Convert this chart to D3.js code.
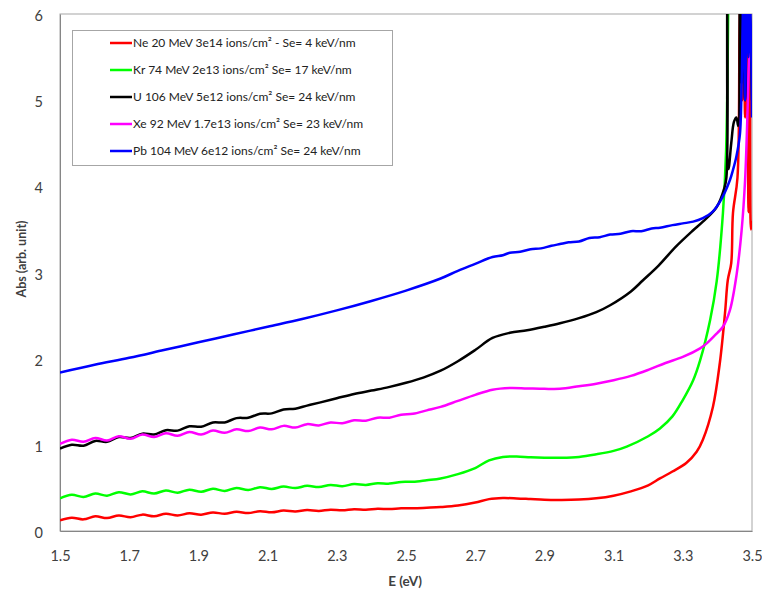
<!DOCTYPE html>
<html><head><meta charset="utf-8">
<script src="https://cdn.jsdelivr.net/npm/d3@7"></script>
<style>
body{margin:0;background:#fff;}
svg{display:block;font-family:Lato,"Open Sans",sans-serif;}
</style></head><body>
<svg id="chart" width="762" height="591"></svg>
<script>
const xTicks = [1.5,1.7,1.9,2.1,2.3,2.5,2.7,2.9,3.1,3.3,3.5];
const yTicks = [0,1,2,3,4,5,6];
const seriesNames = [
  "Ne 20 MeV 3e14 ions/cm² - Se= 4 keV/nm",
  "Kr 74 MeV 2e13 ions/cm² Se= 17 keV/nm",
  "U 106 MeV 5e12 ions/cm² Se= 24 keV/nm",
  "Xe 92 MeV 1.7e13 ions/cm² Se= 23 keV/nm",
  "Pb 104 MeV 6e12 ions/cm² Se= 24 keV/nm"
];
const seriesColors = ["#ff0000","#00ff00","#000000","#ff00ff","#0000ff"];

const neData = [
[1.5,0.125],[1.534,0.155],[1.568,0.135],[1.602,0.17],[1.636,0.15],[1.67,0.18],[1.704,0.16],[1.738,0.19],
[1.772,0.17],[1.806,0.2],[1.84,0.18],[1.874,0.205],[1.908,0.19],[1.942,0.215],[1.976,0.2],[2.01,0.222],
[2.044,0.208],[2.078,0.23],[2.112,0.217],[2.146,0.237],[2.18,0.226],[2.214,0.243],[2.248,0.233],[2.282,0.248],
[2.316,0.24],[2.35,0.253],[2.384,0.247],[2.418,0.258],[2.452,0.254],[2.486,0.263],[2.52,0.263],[2.56,0.27],
[2.6,0.278],[2.65,0.295],[2.7,0.33],[2.74,0.37],[2.78,0.382],[2.82,0.378],[2.86,0.37],[2.9,0.362],[2.95,0.36],
[3.0,0.365],[3.05,0.38],[3.1,0.41],[3.15,0.46],[3.2,0.53],[3.234,0.61],[3.27,0.69],[3.31,0.79],[3.34,0.92],
[3.358,1.06],[3.387,1.44],[3.407,1.95],[3.422,2.53],[3.43,2.91],[3.44,3.11],[3.445,3.69],[3.458,4.1],
[3.464,5.8],[3.468,6.5],[3.472,5.0],[3.476,6.5],[3.48,4.8],[3.485,6.5],[3.49,3.7],[3.494,5.5],[3.497,3.5],[3.5,3.6]];

const krData = [
[1.5,0.38],[1.534,0.42],[1.568,0.395],[1.602,0.435],[1.636,0.41],[1.67,0.45],[1.704,0.425],[1.738,0.46],
[1.772,0.435],[1.806,0.47],[1.84,0.445],[1.874,0.48],[1.908,0.455],[1.942,0.49],[1.976,0.465],[2.01,0.5],
[2.044,0.475],[2.078,0.508],[2.112,0.488],[2.146,0.515],[2.18,0.498],[2.214,0.525],[2.248,0.51],[2.282,0.535],
[2.316,0.52],[2.35,0.545],[2.384,0.535],[2.418,0.555],[2.452,0.55],[2.486,0.57],[2.52,0.572],[2.56,0.59],
[2.6,0.61],[2.65,0.66],[2.7,0.73],[2.74,0.82],[2.78,0.86],[2.82,0.865],[2.86,0.855],[2.9,0.85],[2.945,0.85],
[3.0,0.86],[3.05,0.89],[3.1,0.93],[3.138,0.98],[3.2,1.10],[3.234,1.19],[3.27,1.33],[3.3,1.52],[3.33,1.75],
[3.35,1.98],[3.379,2.45],[3.398,2.9],[3.416,3.69],[3.425,4.4],[3.432,6.5]];

const uData = [
[1.5,0.955],[1.534,1.0],[1.568,0.99],[1.602,1.045],[1.636,1.035],[1.67,1.09],[1.704,1.08],[1.738,1.13],
[1.772,1.12],[1.806,1.17],[1.84,1.165],[1.874,1.215],[1.908,1.21],[1.942,1.26],[1.976,1.26],[2.01,1.31],
[2.044,1.315],[2.078,1.36],[2.112,1.365],[2.146,1.41],[2.18,1.42],[2.214,1.455],[2.25,1.49],[2.3,1.54],
[2.35,1.59],[2.4,1.63],[2.45,1.67],[2.5,1.72],[2.55,1.78],[2.6,1.86],[2.65,1.97],[2.7,2.10],[2.75,2.24],
[2.8,2.30],[2.85,2.33],[2.9,2.37],[2.945,2.41],[3.0,2.47],[3.05,2.54],[3.09,2.62],[3.15,2.78],[3.185,2.91],
[3.23,3.08],[3.28,3.30],[3.33,3.49],[3.358,3.59],[3.398,3.76],[3.42,3.98],[3.426,4.1],[3.428,6.5],
[3.432,4.2],[3.44,4.5],[3.448,4.75],[3.455,4.8],[3.46,4.7],[3.465,6.5],[3.47,5.2],[3.475,6.5],[3.48,5.0],
[3.49,6.5],[3.5,5.0]];

const xeData = [
[1.5,1.01],[1.534,1.06],[1.568,1.035],[1.602,1.08],[1.636,1.05],[1.67,1.10],[1.704,1.07],[1.738,1.12],
[1.772,1.09],[1.806,1.135],[1.84,1.105],[1.874,1.15],[1.908,1.12],[1.942,1.165],[1.976,1.14],[2.01,1.18],
[2.044,1.16],[2.078,1.2],[2.112,1.18],[2.146,1.22],[2.18,1.20],[2.214,1.24],[2.248,1.225],[2.282,1.26],
[2.316,1.25],[2.35,1.285],[2.384,1.28],[2.418,1.315],[2.452,1.315],[2.486,1.35],[2.52,1.36],[2.56,1.40],
[2.6,1.44],[2.65,1.51],[2.7,1.58],[2.75,1.64],[2.8,1.66],[2.85,1.655],[2.9,1.65],[2.945,1.65],[3.0,1.68],
[3.05,1.71],[3.1,1.75],[3.15,1.80],[3.2,1.87],[3.25,1.95],[3.3,2.02],[3.35,2.12],[3.37,2.18],[3.4,2.30],
[3.416,2.37],[3.436,2.56],[3.456,2.99],[3.47,3.49],[3.48,4.07],[3.488,5.0],[3.495,6.2]];

const pbData = [
[1.5,1.84],[1.6,1.93],[1.7,2.01],[1.8,2.10],[1.9,2.19],[2.0,2.28],[2.1,2.37],[2.2,2.46],[2.3,2.56],
[2.4,2.67],[2.5,2.79],[2.6,2.93],[2.65,3.02],[2.7,3.10],[2.75,3.18],[2.78,3.2],[2.8,3.23],[2.83,3.24],
[2.86,3.27],[2.89,3.28],[2.92,3.31],[2.945,3.33],[2.97,3.35],[3.0,3.36],[3.03,3.40],[3.06,3.41],[3.09,3.44],
[3.12,3.45],[3.15,3.48],[3.18,3.48],[3.21,3.51],[3.234,3.52],[3.27,3.55],[3.3,3.57],[3.33,3.59],[3.358,3.63],
[3.385,3.7],[3.41,3.84],[3.436,4.07],[3.445,4.19],[3.455,4.35],[3.465,4.6],[3.47,5.2],[3.475,6.2],
[3.48,5.0],[3.485,6.2],[3.49,5.5],[3.495,6.2],[3.5,4.8]];

const allSeries = [neData, krData, uData, xeData, pbData];

const svg = d3.select("#chart");
const m = {left:60, right:10, top:14, bottom:60};
const W = 762, H = 591;
const x = d3.scaleLinear().domain([1.5,3.5]).range([m.left, W - m.right]);
const y = d3.scaleLinear().domain([0,6]).range([H - m.bottom, m.top]);

svg.append("defs").append("clipPath").attr("id","clip")
  .append("rect").attr("x", m.left).attr("y", m.top)
  .attr("width", W - m.right - m.left).attr("height", H - m.bottom - m.top);

svg.append("rect").attr("x", m.left).attr("y", m.top)
  .attr("width", W - m.right - m.left).attr("height", H - m.bottom - m.top)
  .attr("fill","none").attr("stroke","#a6a6a6").attr("stroke-width",1);

const xAxis = svg.append("g").attr("transform",`translate(0,${H - m.bottom})`)
  .call(d3.axisBottom(x).tickValues(xTicks).tickSize(0).tickPadding(20).tickFormat(d3.format(".1f")));
const yAxis = svg.append("g").attr("transform",`translate(${m.left},0)`)
  .call(d3.axisLeft(y).tickValues(yTicks).tickSize(0).tickPadding(17).tickFormat(d3.format("d")));
[xAxis, yAxis].forEach(a => {
  a.select(".domain").attr("stroke","#868686");
  a.selectAll("text").attr("font-family","Lato, sans-serif").attr("font-size",14.5).attr("fill","#404040");
});
yAxis.selectAll("text").attr("dy","0.45em");

const line = d3.line().curve(d3.curveCatmullRom.alpha(0.5)).x(d => x(d[0])).y(d => y(d[1]));
const g = svg.append("g").attr("clip-path","url(#clip)");
allSeries.forEach((s,i) => {
  g.append("path").datum(s).attr("d", line).attr("fill","none")
    .attr("stroke", seriesColors[i]).attr("stroke-width",2.5).attr("stroke-linejoin","round");
});

svg.append("text").attr("x", 405).attr("y", 586)
  .attr("text-anchor","middle").attr("font-weight","bold").attr("font-size",13.5).attr("fill","#404040")
  .text("E (eV)");
svg.append("text").attr("transform","translate(26,259) rotate(-90)")
  .attr("text-anchor","middle").attr("font-weight","bold").attr("font-size",12.5).attr("fill","#404040")
  .text("Abs (arb. unit)");

const lg = svg.append("g");
lg.append("rect").attr("x",72.5).attr("y",30.5).attr("width",320).attr("height",135)
  .attr("fill","#fff").attr("stroke","#a6a6a6").attr("stroke-width",1);
seriesNames.forEach((name,i) => {
  const yy = 43 + i*27;
  lg.append("line").attr("x1",110).attr("x2",132).attr("y1",yy).attr("y2",yy)
    .attr("stroke",seriesColors[i]).attr("stroke-width",2.5);
  lg.append("text").attr("x",133).attr("y",yy).attr("dy","0.35em")
    .attr("font-size",12).attr("fill","#222").text(name);
});
</script>
</body></html>
